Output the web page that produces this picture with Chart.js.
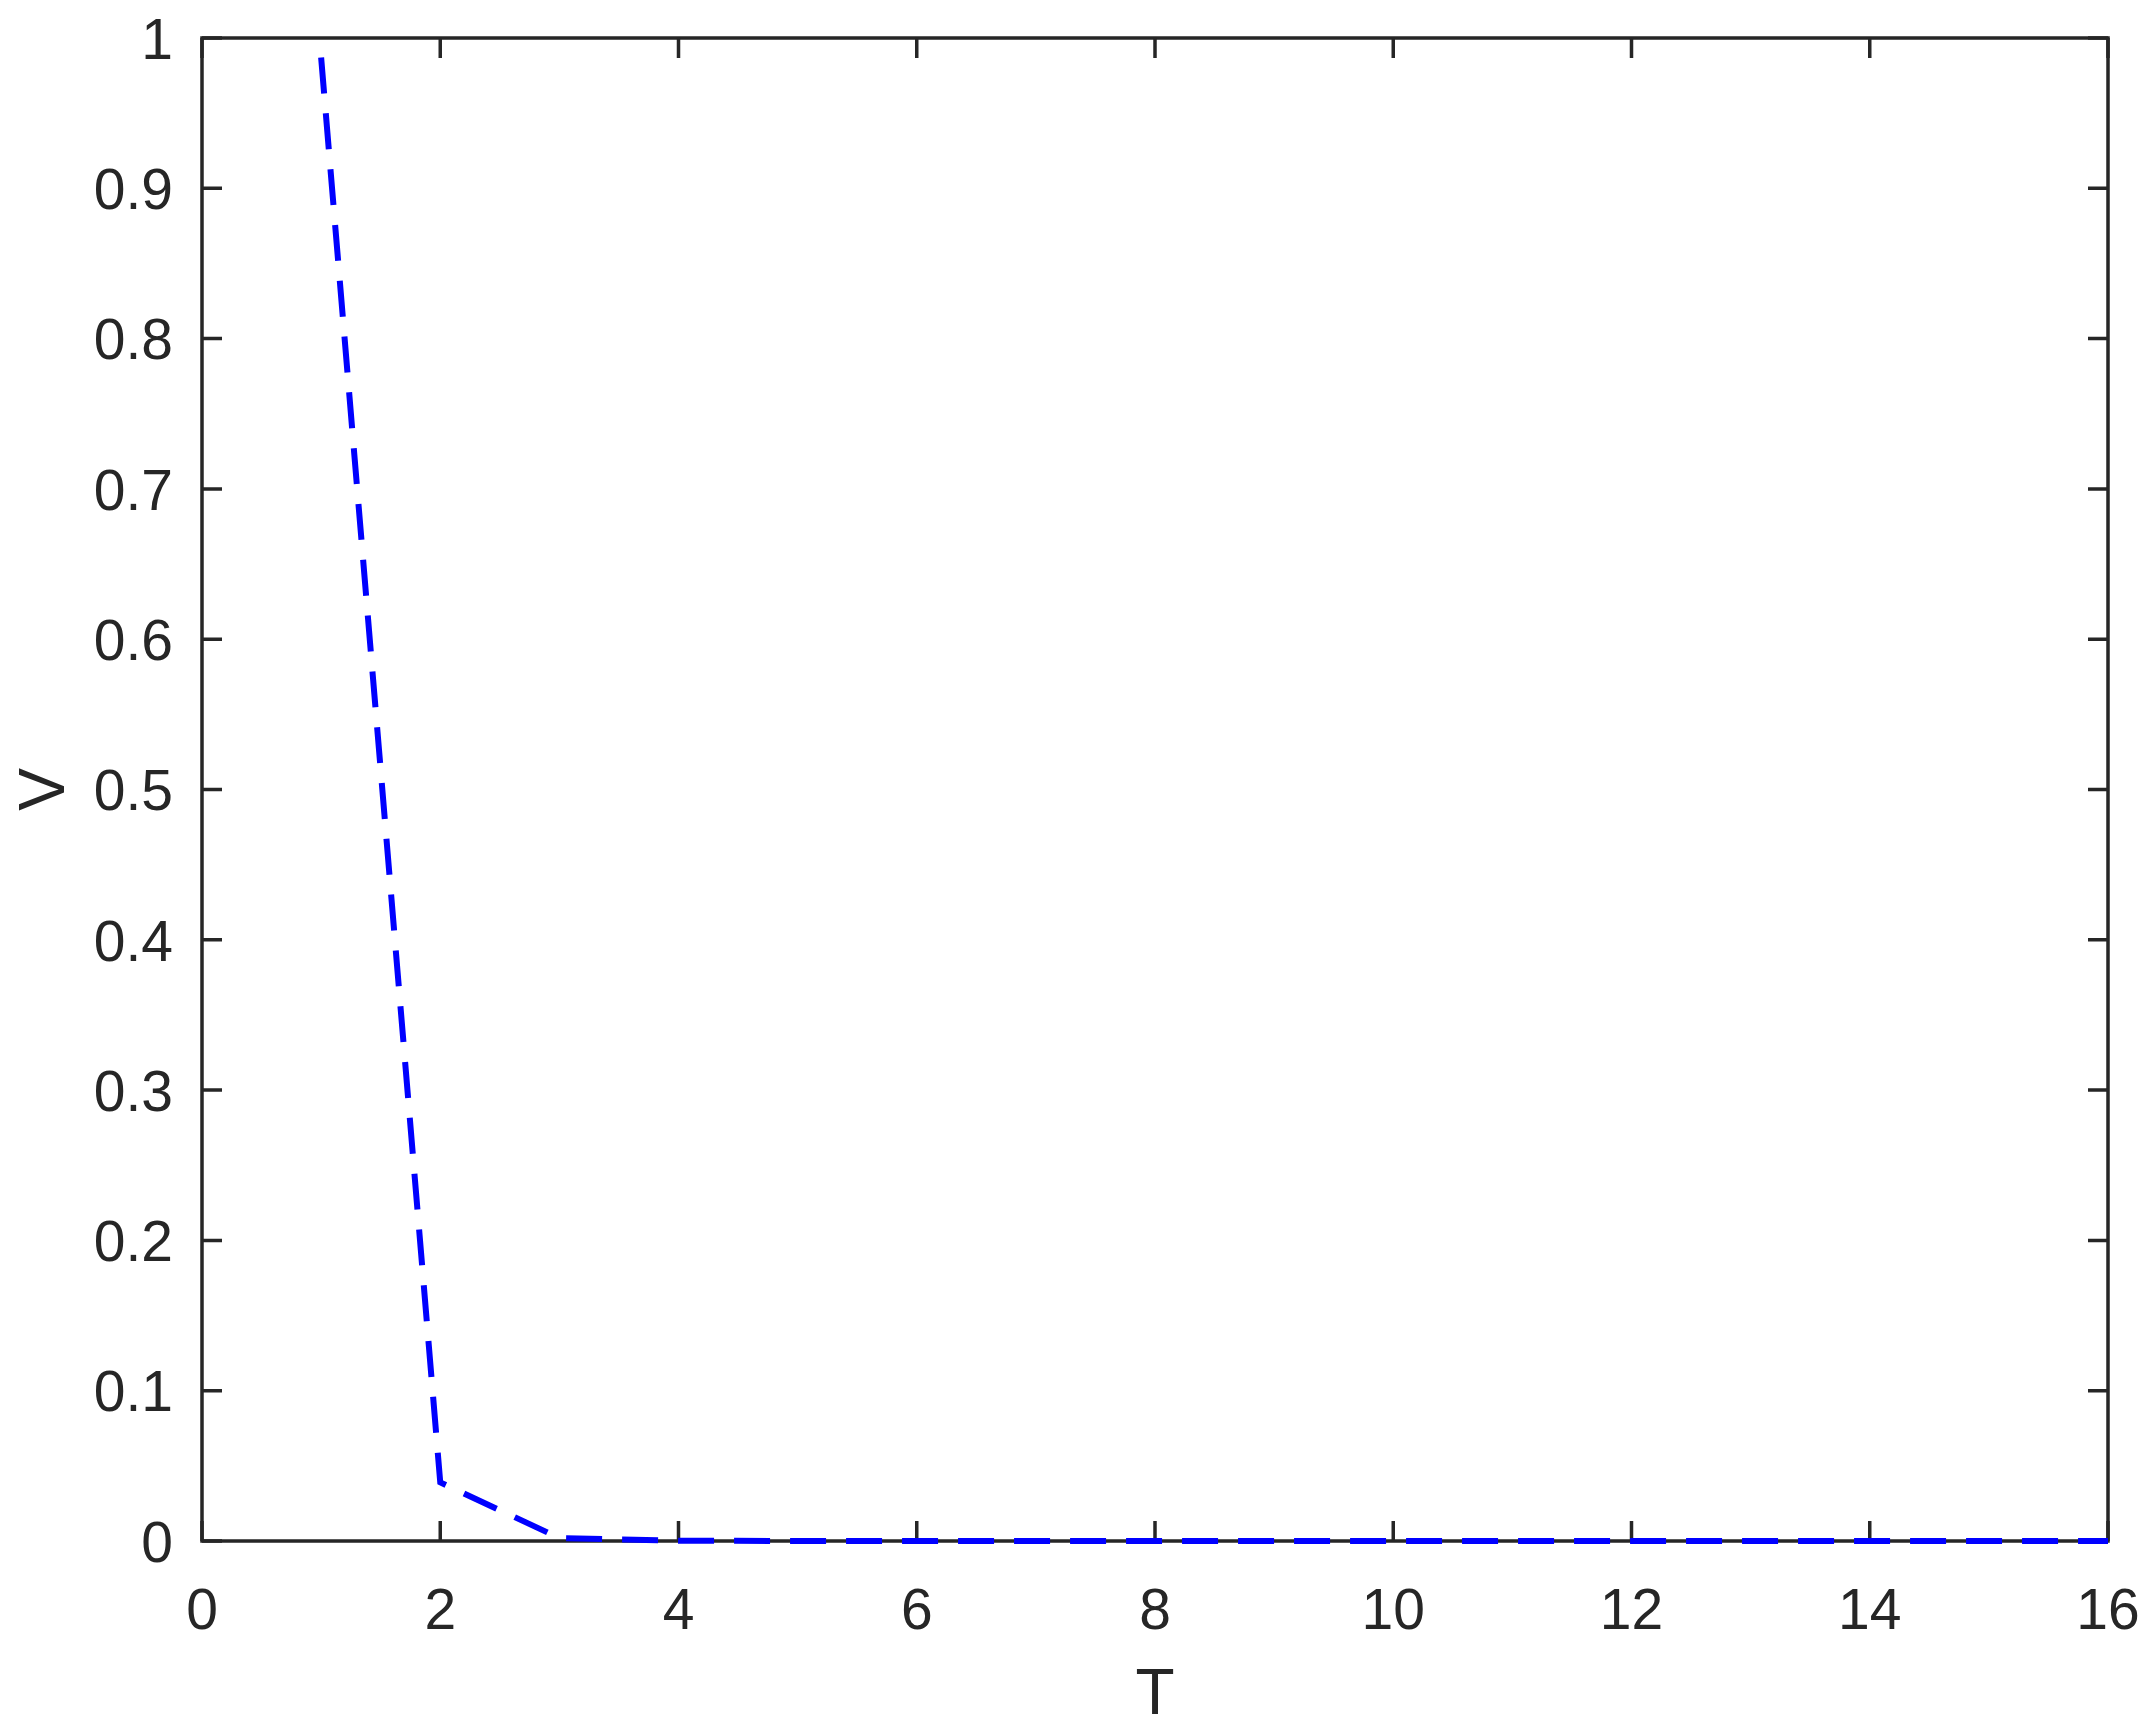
<!DOCTYPE html>
<html>
<head>
<meta charset="utf-8">
<script src="https://cdn.jsdelivr.net/npm/chart.js@4/dist/chart.umd.min.js"></script>
<style>
  html, body { margin: 0; padding: 0; background: #ffffff; }
  #wrap { width: 2152px; height: 1735px; }
</style>
</head>
<body>
<div id="wrap"><canvas id="c" width="2152" height="1735"></canvas></div>
<script>
// ---- data ----
const T = [1, 2, 3, 4, 5, 6, 7, 8, 9, 10, 11, 12, 13, 14, 15, 16];
const V = [0.987, 0.039, 0.002, 0.0002, 0, 0, 0, 0, 0, 0, 0, 0, 0, 0, 0, 0];
const xTicks = [0, 2, 4, 6, 8, 10, 12, 14, 16];
const yTicks = [0, 0.1, 0.2, 0.3, 0.4, 0.5, 0.6, 0.7, 0.8, 0.9, 1];
const xLabel = 'T';
const yLabel = 'V';

const AXIS_COLOR = '#262626';
const FONT = "'Liberation Sans', Arial, Helvetica, sans-serif";

function zeroPad(s) {
  s.paddingTop = 0; s.paddingBottom = 0; s.paddingLeft = 0; s.paddingRight = 0;
}

const framePlugin = {
  id: 'frame',
  beforeDatasetsDraw(chart) {
    const {ctx, chartArea: a, scales: {x, y}} = chart;
    const tl = 20;
    ctx.save();
    ctx.strokeStyle = AXIS_COLOR;
    ctx.lineWidth = 3.5;
    ctx.lineCap = 'butt';
    ctx.beginPath();
    ctx.rect(a.left, a.top, a.right - a.left, a.bottom - a.top);
    ctx.stroke();
    ctx.beginPath();
    xTicks.forEach(v => {
      const px = x.getPixelForValue(v);
      ctx.moveTo(px, a.bottom); ctx.lineTo(px, a.bottom - tl);
      ctx.moveTo(px, a.top); ctx.lineTo(px, a.top + tl);
    });
    yTicks.forEach(v => {
      const py = y.getPixelForValue(v);
      ctx.moveTo(a.left, py); ctx.lineTo(a.left + tl, py);
      ctx.moveTo(a.right, py); ctx.lineTo(a.right - tl, py);
    });
    ctx.stroke();
    ctx.restore();
  }
};

new Chart(document.getElementById('c'), {
  type: 'line',
  data: {
    datasets: [{
      data: T.map((t, i) => ({x: t, y: V[i]})),
      borderColor: '#0000ff',
      borderWidth: 6,
      borderDash: [36, 20],
      borderCapStyle: 'butt',
      borderJoinStyle: 'miter',
      pointRadius: 0,
      tension: 0,
      fill: false,
      clip: 4
    }]
  },
  options: {
    responsive: false,
    animation: false,
    devicePixelRatio: 1,
    layout: { padding: { left: 0, top: 38, right: 44, bottom: 0 } },
    plugins: { legend: { display: false }, tooltip: { enabled: false } },
    scales: {
      x: {
        type: 'linear',
        min: 0, max: 16,
        afterFit(s) { s.height = 194; zeroPad(s); },
        afterBuildTicks(s) { s.ticks = xTicks.map(v => ({value: v})); },
        grid: { display: false, drawTicks: false },
        border: { display: false },
        ticks: {
          padding: 38,
          color: AXIS_COLOR,
          font: { family: FONT, size: 57 },
          maxRotation: 0,
          callback: v => String(v)
        },
        title: {
          display: true, text: xLabel, color: AXIS_COLOR,
          font: { family: FONT, size: 64 },
          padding: { top: 0, bottom: 0 }
        }
      },
      y: {
        type: 'linear',
        min: 0, max: 1,
        afterFit(s) { s.width = 202; zeroPad(s); },
        afterBuildTicks(s) { s.ticks = yTicks.map(v => ({value: v})); },
        grid: { display: false, drawTicks: false },
        border: { display: false },
        ticks: {
          padding: 29,
          labelOffset: 5,
          color: AXIS_COLOR,
          font: { family: FONT, size: 57 },
          callback: v => String(Number(v.toFixed(1)))
        },
        title: {
          display: true, text: yLabel, color: AXIS_COLOR,
          font: { family: FONT, size: 64 },
          padding: { top: 8, bottom: 0 }
        }
      }
    }
  },
  plugins: [framePlugin]
});
</script>
</body>
</html>
